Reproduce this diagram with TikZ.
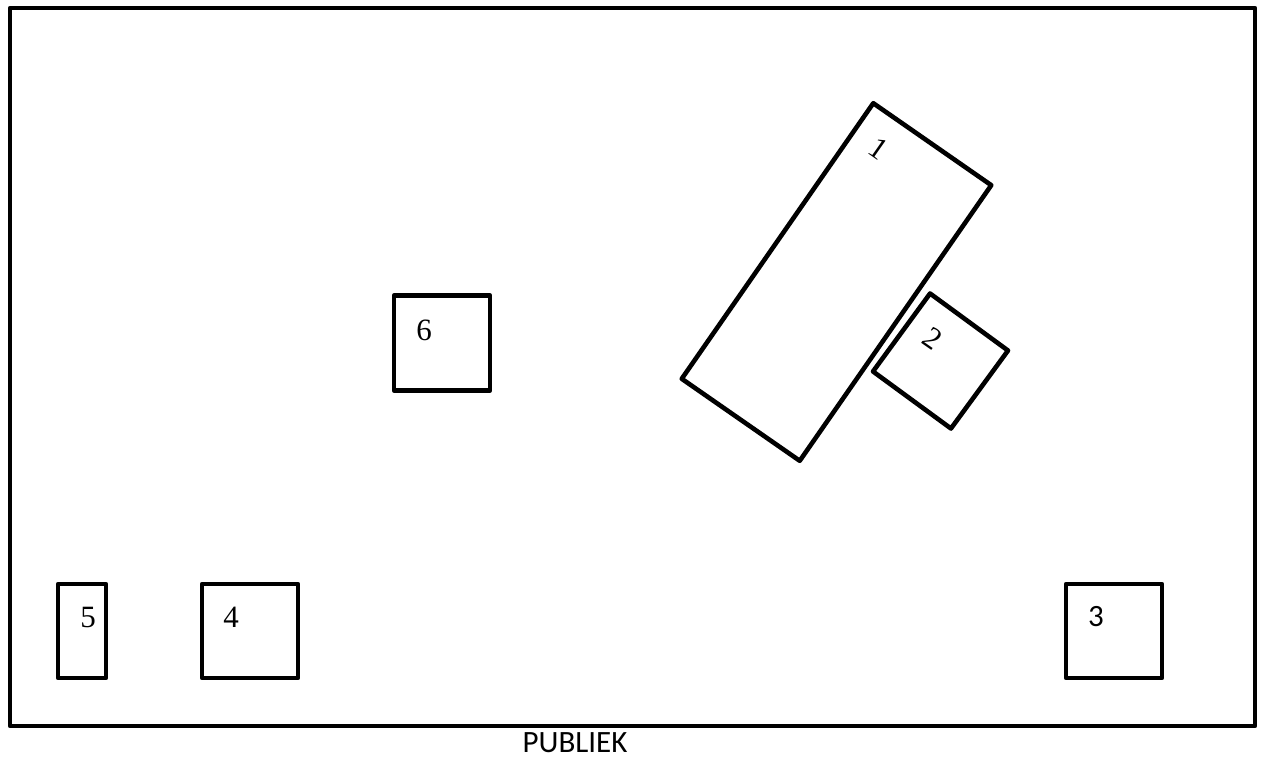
\documentclass[tikz,border=0pt]{standalone}
\usepackage{fontspec}
\setmainfont{Liberation Serif}
\newfontfamily\calib{Carlito}
\begin{document}
\begin{tikzpicture}[x=1pt,y=-1pt,
  box/.style={draw=black,line width=4.6pt,line join=round,inner sep=0pt,outer sep=0pt,rectangle},
  num/.style={font=\fontsize{31}{34}\selectfont,inner sep=0pt},
  snum/.style={font=\calib\fontsize{31}{34}\selectfont,inner sep=0pt}]
\useasboundingbox (0,0) rectangle (1266,767);
\node[box,minimum width=1245pt,minimum height=718pt,anchor=north west] (stage) at (10,8) {};
\node[box,minimum width=143.7pt,minimum height=335.6pt,rotate=-34.8] (t1) at (836.5,282) {};
\node[box,minimum width=96.6pt,minimum height=96.6pt,rotate=-36.2] (t2) at (940.5,361) {};
\node[box,minimum width=96pt,minimum height=95pt] (t6) at (442,343) {};
\node[box,minimum width=48pt,minimum height=94pt] (t5) at (82,631) {};
\node[box,minimum width=96pt,minimum height=94pt] (t4) at (250,631) {};
\node[box,minimum width=96pt,minimum height=94pt] (t3) at (1114,631) {};
\node[num,rotate=-35] (l1) at (879,149) {1};
\node[num,rotate=-35] (l2) at (933,339) {2};
\node[num] (l6) at (424,330) {6};
\node[num] (l5) at (88,617) {5};
\node[num] (l4) at (231,617) {4};
\node[snum] (l3) at (1096,617) {3};
\node[snum] (pub) at (575,743) {PUBLIEK};
\end{tikzpicture}
\end{document}
